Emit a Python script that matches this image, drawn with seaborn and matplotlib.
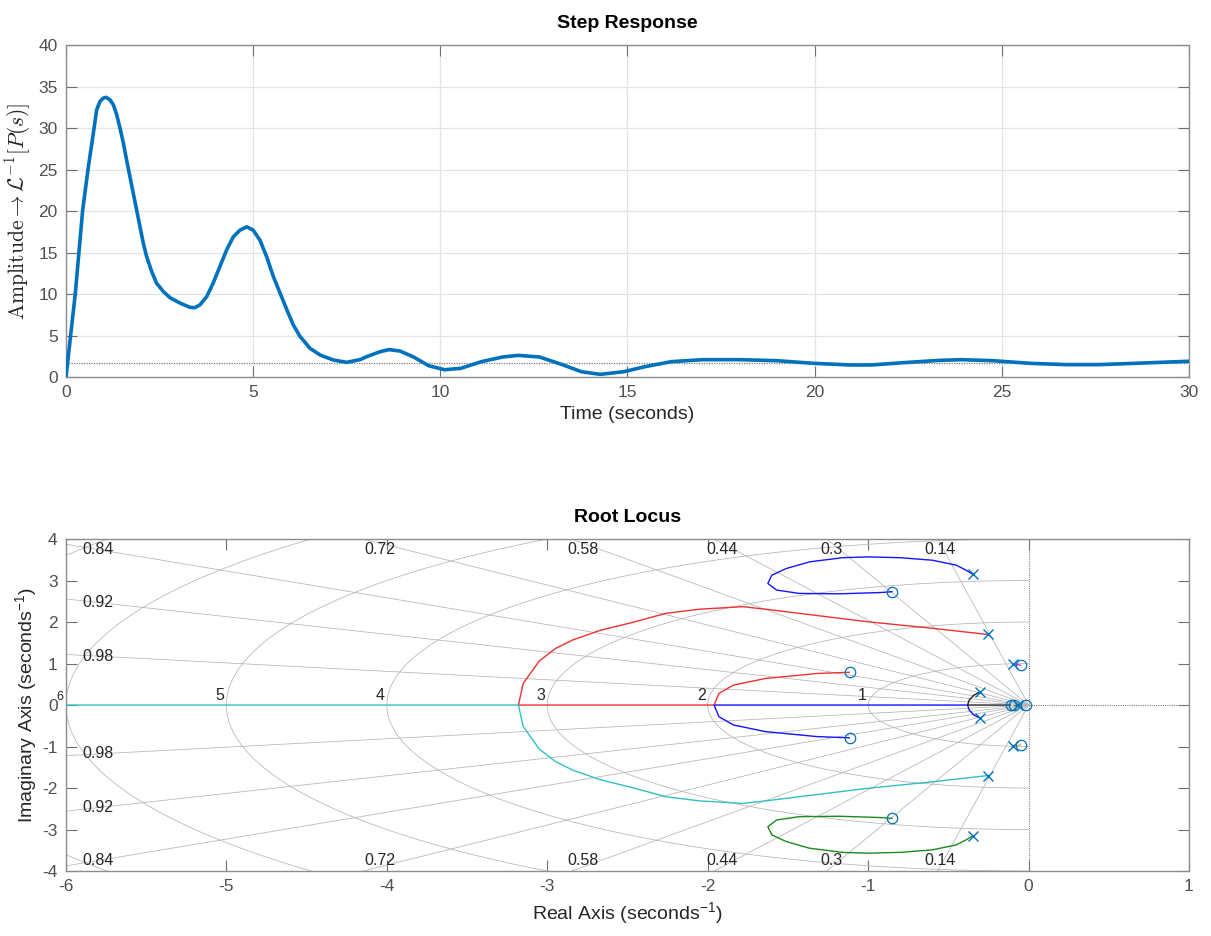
import numpy as np
import pandas as pd
import matplotlib
matplotlib.use("Agg")
import matplotlib.pyplot as plt
import seaborn as sns

# ---------------- Step response readings ----------------
time_s = [0, 0.125, 0.249, 0.445, 0.597, 0.757, 0.819, 0.908, 0.997, 1.069, 1.176, 1.265,
          1.354, 1.443, 1.532, 1.621, 1.71, 1.799, 1.888, 1.977, 2.066, 2.155, 2.29, 2.42,
          2.6, 2.78, 3.05, 3.31, 3.44, 3.58, 3.76, 3.93, 4.11, 4.29, 4.47, 4.65, 4.83, 5.0,
          5.18, 5.36, 5.54, 5.72, 5.9, 6.07, 6.25, 6.52, 6.79, 7.14, 7.5, 7.86, 8.03, 8.39,
          8.63, 8.92, 9.27, 9.69, 10.11, 10.54, 11.1, 11.66, 12.08, 12.65, 13.21, 13.77,
          14.27, 14.9, 15.46, 16.17, 17.01, 18.0, 18.99, 19.97, 20.96, 21.52, 22.37, 23.35,
          23.92, 24.76, 25.75, 26.73, 27.58, 28.56, 30.0]
amplitude = [0, 5.06, 10.08, 20.1, 25.3, 30.2, 32.2, 33.2, 33.6, 33.7, 33.4, 32.8,
             31.6, 30.0, 28.2, 26.1, 24.1, 22.1, 20.1, 18.1, 16.1, 14.5, 12.7, 11.3,
             10.3, 9.55, 8.9, 8.4, 8.35, 8.7, 9.7, 11.3, 13.3, 15.3, 16.9, 17.7, 18.1, 17.7,
             16.5, 14.5, 12.1, 10.1, 8.1, 6.3, 4.9, 3.45, 2.65, 2.05, 1.77, 2.1, 2.45, 3.05,
             3.3, 3.13, 2.45, 1.36, 0.88, 1.04, 1.85, 2.41, 2.61, 2.41, 1.57, 0.64,
             0.32, 0.64, 1.24, 1.85, 2.09, 2.09, 1.97, 1.65, 1.45, 1.45, 1.73, 2.01,
             2.09, 1.97, 1.65, 1.49, 1.49, 1.65, 1.9]
steady_state = 1.63
step_xticks = [0, 5, 10, 15, 20, 25, 30]
step_yticks = [0, 5, 10, 15, 20, 25, 30, 35, 40]

# ---------------- Root locus readings ----------------
zeta_vals = [0.14, 0.3, 0.44, 0.58, 0.72, 0.84, 0.92, 0.98]
wn_vals = [1, 2, 3, 4, 5, 6, 7]
wn_label_vals = [1, 2, 3, 4, 5, 6]
rl_xticks = [-6, -5, -4, -3, -2, -1, 0, 1]
rl_yticks = [-4, -3, -2, -1, 0, 1, 2, 3, 4]

pole_re = [-0.347, -0.347, -0.254, -0.254, -0.094, -0.094, -0.305, -0.305, -0.065]
pole_im = [3.15, -3.15, 1.70, -1.70, 0.99, -0.99, 0.31, -0.31, 0.0]
zero_re = [-0.85, -0.85, -1.116, -1.116, -0.05, -0.05, -0.112, -0.088, -0.015]
zero_im = [2.73, -2.73, 0.79, -0.79, 0.96, -0.96, 0.0, 0.0, 0.0]

# blue loop (upper) and its conjugate green loop (lower)
loop_re = [-0.347, -0.39, -0.45, -0.60, -0.80, -1.00, -1.16, -1.365, -1.51, -1.60, -1.625,
           -1.57, -1.43, -1.18, -0.93, -0.85]
loop_im = [3.15, 3.25, 3.37, 3.49, 3.55, 3.57, 3.55, 3.45, 3.29, 3.13, 2.93,
           2.77, 2.69, 2.68, 2.71, 2.73]
# red branch (upper): pole -> break-in on real axis -> breakaway -> zero
red_re = [-0.254, -0.6, -1.01, -1.43, -1.64, -1.78, -2.05, -2.26, -2.47, -2.67, -2.84,
          -2.95, -3.05, -3.15, -3.18, -1.96, -1.93, -1.84, -1.64, -1.32, -1.116]
red_im = [1.70, 1.85, 2.01, 2.21, 2.31, 2.37, 2.31, 2.21, 1.99, 1.80, 1.57,
          1.36, 1.06, 0.52, 0.0, 0.0, 0.28, 0.48, 0.64, 0.76, 0.79]
# cyan branch (lower): pole -> real axis -> to -infinity
cyan_re = [-0.254, -0.6, -1.01, -1.43, -1.64, -1.78, -2.05, -2.26, -2.47, -2.67, -2.84,
           -2.95, -3.05, -3.15, -3.18, -7.0]
cyan_im = [-1.70, -1.85, -2.01, -2.21, -2.31, -2.37, -2.31, -2.21, -1.99, -1.80, -1.57,
           -1.36, -1.06, -0.52, 0.0, 0.0]
# blue branch (lower, near axis)
blue_re = [-0.305, -0.34, -0.37, -0.38, -1.96, -1.93, -1.84, -1.64, -1.32, -1.116]
blue_im = [-0.31, -0.24, -0.12, 0.0, 0.0, -0.28, -0.48, -0.64, -0.76, -0.79]
# black branch (upper, near origin)
black_re = [-0.305, -0.34, -0.37, -0.38, -0.112]
black_im = [0.31, 0.24, 0.12, 0.0, 0.0]
# short branches near the imaginary axis
mag_re, mag_im = [-0.094, -0.05], [0.99, 0.96]
yel_re, yel_im = [-0.094, -0.05], [-0.99, -0.96]
grn_re, grn_im = [-0.065, -0.088], [0.0, 0.0]

# ---------------- Styling ----------------
sns.set_theme(style="ticks")
plt.rcParams["font.family"] = ["Liberation Sans", "DejaVu Sans"]
plt.rcParams["mathtext.fontset"] = "custom"
plt.rcParams["mathtext.rm"] = "Liberation Sans"
plt.rcParams["mathtext.it"] = "Liberation Sans:italic"
plt.rcParams["axes.unicode_minus"] = False

AX_COL = "#8c8c8c"
TXT_COL = "#505050"
LAB_COL = "#262626"
MBLUE = "#0072BD"

fig = plt.figure(figsize=(12.11, 9.36), dpi=100)
ax1 = fig.add_axes([0.0545, 0.5972, 0.9273, 0.3547])
ax2 = fig.add_axes([0.0545, 0.0694, 0.9273, 0.3547])

for ax in (ax1, ax2):
    for s in ax.spines.values():
        s.set_color(AX_COL)
        s.set_linewidth(1.0)
    ax.tick_params(direction="in", top=True, right=True, length=8, width=0.8,
                   color="#707070", labelcolor=TXT_COL, labelsize=12.5, pad=6)

# ---- Step response ----
df_step = pd.DataFrame({"t": time_s, "y": amplitude})
ax1.axhline(steady_state, color="#7a7a7a", lw=0.9, ls=(0, (1, 1)), zorder=2)
sns.lineplot(data=df_step, x="t", y="y", ax=ax1, color=MBLUE, lw=2.6,
             sort=False, estimator=None, zorder=3)
ax1.lines[-1].set_solid_joinstyle("round")
ax1.lines[-1].set_solid_capstyle("round")
ax1.set_xlim(0, 30)
ax1.set_ylim(0, 40)
ax1.set_xticks(step_xticks)
ax1.set_yticks(step_yticks)
ax1.grid(True, color="#e3e3e3", lw=0.9)
ax1.set_axisbelow(True)
ax1.set_title("Step Response", fontsize=14, fontweight="bold", color="black", pad=12)
ax1.set_xlabel("Time (seconds)", fontsize=14, color=LAB_COL, labelpad=4)
ax1.set_ylabel(r"$\mathrm{Amplitude} \rightarrow \mathcal{L}^{-1}[P(s)]$",
               fontsize=15.5, color=LAB_COL, math_fontfamily="cm")
ax1.yaxis.set_label_coords(-0.029, 0.5)

# ---- Root locus ----
GRID_COL = "#b4b4b4"
theta = np.linspace(np.pi / 2, 3 * np.pi / 2, 400)
for wn in wn_vals:
    ax2.plot(wn * np.cos(theta), wn * np.sin(theta), color=GRID_COL, lw=0.55, zorder=1)
R = 20.0
for z in zeta_vals:
    phi = np.arccos(z)
    slope = np.tan(phi)
    for sgn in (1, -1):
        ax2.plot([0, -R * np.cos(phi)], [0, sgn * R * np.sin(phi)],
                 color=GRID_COL, lw=0.55, zorder=1)
        if 5.8 * slope < 3.9:
            ax2.text(-5.8, sgn * 5.8 * slope, f"{z:g}", fontsize=11.5, color=LAB_COL,
                     ha="center", va="center", zorder=2)
        else:
            ax2.text(-3.9 / slope, sgn * 3.92, f"{z:g}", fontsize=11.5, color=LAB_COL,
                     ha="center", va="top" if sgn > 0 else "bottom", zorder=2)
for wn in wn_label_vals:
    ax2.text(-wn - 0.04, 0.05, f"{wn}", fontsize=11.5 if wn < 6 else 9, color=LAB_COL,
             ha="center", va="bottom", zorder=2, clip_on=False)
ax2.plot([0, 0], [-5, 5], color="#808080", lw=0.8, ls=(0, (1, 1)), zorder=1)
ax2.plot([0, 2], [0, 0], color="#808080", lw=0.8, ls=(0, (1, 1)), zorder=1)

branches = [
    (loop_re, loop_im, "#1414ff"),
    (loop_re, [-v for v in loop_im], "#1a8a1a"),
    (red_re, red_im, "#f03030"),
    (cyan_re, cyan_im, "#30c0c0"),
    (blue_re, blue_im, "#1414ff"),
    (black_re, black_im, "#202020"),
    (mag_re, mag_im, "#e020e0"),
    (yel_re, yel_im, "#d0c020"),
    (grn_re, grn_im, "#1a8a1a"),
]
for bx, by, col in branches:
    sns.lineplot(x=bx, y=by, ax=ax2, color=col, lw=1.0, sort=False,
                 estimator=None, zorder=3)

ax2.plot(pole_re, pole_im, ls="none", marker="x", ms=6.5, mew=1.0, color=MBLUE, zorder=4)
ax2.plot(zero_re, zero_im, ls="none", marker="o", ms=7.5, mew=0.9, mfc="none",
         color=MBLUE, zorder=4)

ax2.set_xlim(-6, 1)
ax2.set_ylim(-4, 4)
ax2.set_xticks(rl_xticks)
ax2.set_yticks(rl_yticks)
ax2.set_title("Root Locus", fontsize=14, fontweight="bold", color="black", pad=12)
ax2.set_xlabel(r"Real Axis (seconds$^{\mathrm{-1}}$)", fontsize=14, color=LAB_COL, labelpad=4)
ax2.set_ylabel(r"Imaginary Axis (seconds$^{\mathrm{-1}}$)", fontsize=14, color=LAB_COL, labelpad=2)

fig.savefig("out.png", dpi=100)
